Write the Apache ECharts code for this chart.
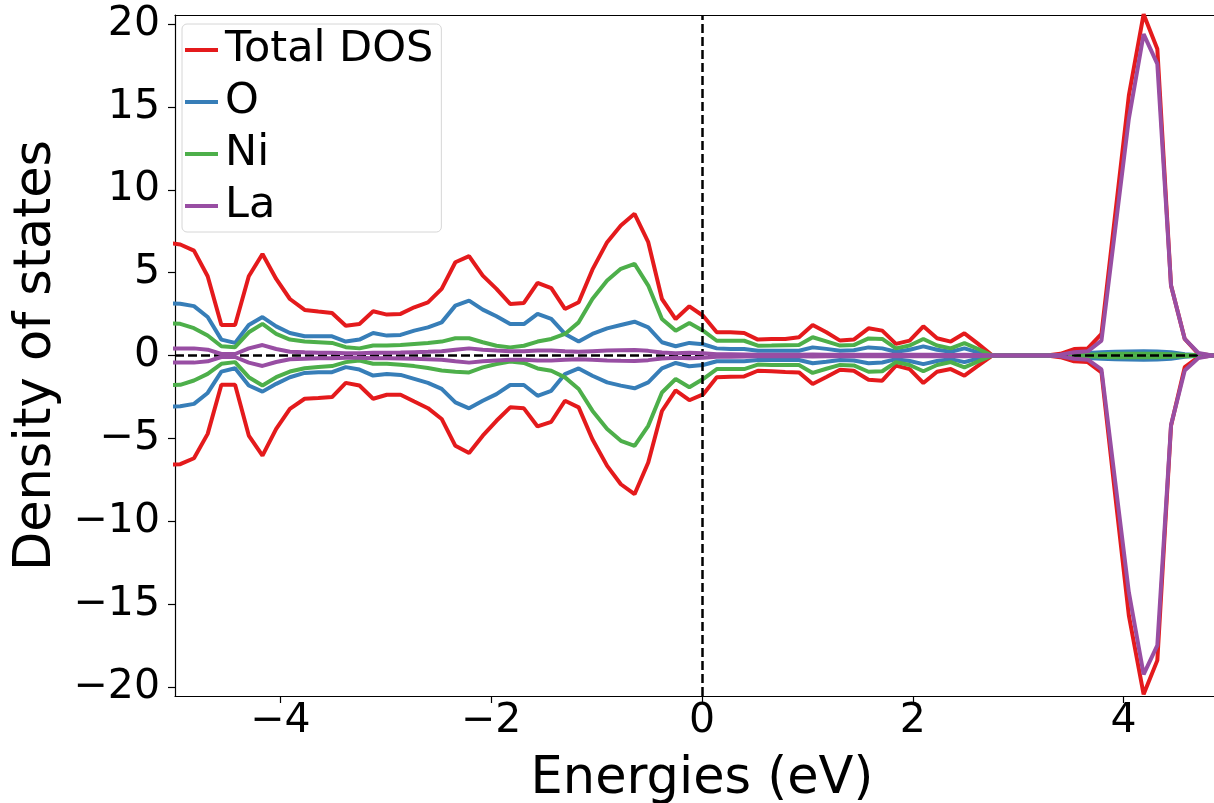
<!DOCTYPE html>
<html>
<head>
<meta charset="utf-8">
<script src="https://cdn.jsdelivr.net/npm/echarts@6/dist/echarts.min.js"></script>
<style>
  html, body { margin: 0; padding: 0; background: #fff; }
  #chart { width: 1214px; height: 803px; }
</style>
</head>
<body>
<div id="chart"></div>
<script>
const energies = [-5.08, -4.95, -4.82, -4.69, -4.56, -4.43, -4.30, -4.17, -4.04, -3.91,
    -3.77, -3.64, -3.51, -3.38, -3.25, -3.12, -2.99, -2.86, -2.73, -2.60,
    -2.47, -2.34, -2.21, -2.08, -1.95, -1.82, -1.69, -1.56, -1.43, -1.30,
    -1.17, -1.04, -0.90, -0.77, -0.64, -0.51, -0.38, -0.25, -0.12, 0.01,
    0.14, 0.27, 0.40, 0.53, 0.66, 0.79, 0.92, 1.05, 1.18, 1.31,
    1.44, 1.58, 1.71, 1.84, 1.97, 2.10, 2.23, 2.36, 2.49, 2.62,
    2.75, 2.88, 3.01, 3.14, 3.27, 3.40, 3.53, 3.66, 3.79, 3.92,
    4.05, 4.19, 4.32, 4.45, 4.58, 4.71, 4.84, 4.97];

const totalUp = [6.8, 6.7, 6.33, 4.78, 1.84, 1.84, 4.78, 6.13, 4.62, 3.41,
    2.75, 2.65, 2.57, 1.80, 1.90, 2.67, 2.47, 2.51, 2.91, 3.21,
    4.02, 5.63, 6.0, 4.82, 4.02, 3.11, 3.17, 4.38, 4.06, 2.81,
    3.21, 5.18, 6.84, 7.84, 8.55, 6.84, 3.41, 2.2, 2.97, 2.4,
    1.40, 1.40, 1.36, 0.96, 1.0, 1.0, 1.1, 1.84, 1.40, 0.90,
    0.96, 1.64, 1.50, 0.70, 0.90, 1.76, 1.04, 0.84, 1.34, 0.70,
    0.02, 0, 0, 0, 0, 0.1, 0.39, 0.43, 1.30, 8.5,
    15.7, 20.6, 18.5, 4.22, 1.0, 0.1, 0, 0];
const totalDown = [-6.6, -6.56, -6.2, -4.73, -1.77, -1.77, -4.83, -6.04, -4.43, -3.22,
    -2.61, -2.57, -2.51, -1.65, -1.81, -2.61, -2.37, -2.37, -2.78, -3.18,
    -3.83, -5.45, -5.89, -4.84, -3.94, -3.13, -3.19, -4.28, -4.0, -2.73,
    -3.13, -5.05, -6.66, -7.77, -8.37, -6.46, -3.35, -2.1, -2.7, -2.35,
    -1.32, -1.28, -1.26, -0.92, -0.95, -1.0, -1.02, -1.72, -1.3, -0.86,
    -0.92, -1.46, -1.52, -0.61, -0.82, -1.66, -0.98, -0.82, -1.22, -0.61,
    -0.02, 0, 0, 0, 0, -0.1, -0.35, -0.4, -1.02, -8.4,
    -15.7, -20.45, -18.4, -4.24, -0.7, -0.1, 0, 0];

const oUp = [3.15, 3.12, 2.98, 2.32, 0.96, 0.76, 1.84, 2.32, 1.76, 1.36,
    1.16, 1.16, 1.16, 0.84, 0.96, 1.36, 1.2, 1.24, 1.5, 1.7,
    2.0, 3.01, 3.31, 2.77, 2.37, 1.90, 1.90, 2.51, 2.21, 1.30,
    0.84, 1.30, 1.64, 1.84, 2.04, 1.70, 0.80, 0.56, 0.76, 0.68,
    0.43, 0.39, 0.39, 0.29, 0.29, 0.29, 0.29, 0.49, 0.40, 0.29,
    0.32, 0.49, 0.43, 0.23, 0.35, 0.55, 0.35, 0.23, 0.43, 0.19,
    0.01, 0, 0, 0, 0, 0.02, 0.08, 0.15, 0.2, 0.22,
    0.24, 0.25, 0.24, 0.2, 0.08, 0.02, 0, 0];
const oDown = [-3.08, -3.06, -2.92, -2.26, -0.97, -0.77, -1.81, -2.18, -1.71, -1.31,
    -1.05, -1.01, -1.01, -0.70, -0.85, -1.21, -1.11, -1.17, -1.41, -1.65,
    -2.01, -2.83, -3.19, -2.73, -2.33, -1.78, -1.78, -2.43, -2.13, -1.12,
    -0.78, -1.22, -1.62, -1.82, -1.98, -1.62, -0.78, -0.45, -0.65, -0.57,
    -0.35, -0.35, -0.35, -0.27, -0.27, -0.27, -0.27, -0.47, -0.38, -0.27,
    -0.3, -0.47, -0.42, -0.22, -0.33, -0.52, -0.33, -0.22, -0.4, -0.18,
    -0.01, 0, 0, 0, 0, -0.02, -0.08, -0.15, -0.2, -0.22,
    -0.24, -0.25, -0.24, -0.2, -0.08, -0.02, 0, 0];

const niUp = [1.95, 1.91, 1.65, 1.21, 0.56, 0.50, 1.40, 1.91, 1.31, 0.96,
    0.84, 0.80, 0.76, 0.50, 0.43, 0.60, 0.60, 0.64, 0.70, 0.76,
    0.84, 1.04, 1.04, 0.80, 0.59, 0.49, 0.59, 0.84, 1.0, 1.30,
    2.0, 3.41, 4.52, 5.23, 5.53, 4.22, 2.2, 1.5, 1.96, 1.5,
    0.89, 0.89, 0.89, 0.59, 0.60, 0.62, 0.63, 1.1, 0.85, 0.6,
    0.63, 1.03, 1.0, 0.43, 0.6, 1.0, 0.6, 0.43, 0.75, 0.39,
    0.01, 0, 0, 0, 0, 0, 0.02, 0.05, 0.08, 0.1,
    0.1, 0.1, 0.1, 0.08, 0.04, 0.01, 0, 0];
const niDown = [-1.8, -1.77, -1.51, -1.11, -0.5, -0.4, -1.31, -1.81, -1.31, -0.97,
    -0.77, -0.70, -0.64, -0.40, -0.30, -0.50, -0.50, -0.56, -0.64, -0.76,
    -0.9, -0.98, -1.02, -0.72, -0.51, -0.37, -0.45, -0.78, -0.92, -1.32,
    -2.02, -3.33, -4.44, -5.15, -5.45, -4.24, -2.23, -1.42, -1.92, -1.42,
    -0.82, -0.82, -0.82, -0.55, -0.57, -0.57, -0.57, -1.05, -0.8, -0.57,
    -0.6, -0.98, -0.95, -0.4, -0.57, -0.95, -0.57, -0.4, -0.72, -0.36,
    -0.01, 0, 0, 0, 0, 0, -0.02, -0.05, -0.08, -0.1,
    -0.1, -0.1, -0.1, -0.08, -0.04, -0.01, 0, 0];

const laUp = [0.43, 0.43, 0.43, 0.35, 0.09, 0.09, 0.43, 0.63, 0.39, 0.23,
    0.19, 0.17, 0.16, 0.13, 0.13, 0.16, 0.17, 0.18, 0.2, 0.22,
    0.25, 0.35, 0.43, 0.35, 0.3, 0.26, 0.26, 0.3, 0.3, 0.25,
    0.22, 0.26, 0.3, 0.32, 0.33, 0.28, 0.18, 0.14, 0.17, 0.14,
    0.08, 0.07, 0.06, 0.05, 0.05, 0.05, 0.05, 0.06, 0.05, 0.04,
    0.04, 0.05, 0.05, 0.04, 0.04, 0.05, 0.04, 0.03, 0.04, 0.03,
    0, 0, 0, 0, 0, 0.05, 0.2, 0.25, 0.9, 7.6,
    14.3, 19.4, 17.6, 4.22, 1.0, 0.15, 0, 0];
const laDown = [-0.43, -0.43, -0.43, -0.35, -0.09, -0.09, -0.43, -0.63, -0.39, -0.23,
    -0.19, -0.17, -0.16, -0.13, -0.13, -0.16, -0.17, -0.18, -0.2, -0.22,
    -0.25, -0.35, -0.43, -0.35, -0.3, -0.26, -0.26, -0.3, -0.3, -0.25,
    -0.22, -0.26, -0.3, -0.32, -0.33, -0.28, -0.18, -0.14, -0.17, -0.14,
    -0.08, -0.07, -0.06, -0.05, -0.05, -0.05, -0.05, -0.06, -0.05, -0.04,
    -0.04, -0.05, -0.05, -0.04, -0.04, -0.05, -0.04, -0.03, -0.04, -0.03,
    0, 0, 0, 0, 0, -0.05, -0.2, -0.25, -0.84, -7.6,
    -14.3, -19.25, -17.5, -4.2, -0.9, -0.15, 0, 0];

const xTicks = [-4, -2, 0, 2, 4];
const yTicks = [-20, -15, -10, -5, 0, 5, 10, 15, 20];

const names = ['Total DOS', 'O', 'Ni', 'La'];
const colors = ['#e41a1c', '#377eb8', '#4daf4a', '#984ea3'];
const upSets = [totalUp, oUp, niUp, laUp];
const downSets = [totalDown, oDown, niDown, laDown];

const font = 'DejaVu Sans';

function pairs(vals) {
    return energies.map((e, i) => [e, vals[i]]);
}

const series = [];
names.forEach((name, i) => {
    [upSets[i], downSets[i]].forEach(vals => {
        series.push({
            name: name,
            type: 'line',
            data: pairs(vals),
            showSymbol: false,
            symbol: 'none',
            color: colors[i],
            lineStyle: { color: colors[i], width: 4 },
            z: 2 + i,
            animation: false
        });
    });
});

// dashed reference lines at E = 0 and DOS = 0
series.push({
    type: 'line',
    data: [],
    z: 10,
    markLine: {
        silent: true,
        symbol: 'none',
        label: { show: false },
        animation: false,
        lineStyle: { color: '#000', type: [9, 4], width: 2.5 },
        data: [{ xAxis: 0 }, { yAxis: 0 }]
    }
});

const chart = echarts.init(document.getElementById('chart'));
chart.setOption({
    animation: false,
    backgroundColor: '#fff',
    // axes run to E = 5, a bit past the right edge of the picture
    grid: { left: 175, top: 15, width: 1054, height: 681, outerBoundsMode: 'none', containLabel: false },
    legend: {
        data: names.map(n => ({ name: n, icon: 'rect' })),
        orient: 'vertical',
        left: 182,
        top: 24,
        itemWidth: 33,
        itemHeight: 4,
        itemGap: 8,
        padding: [4, 8, 4, 3],
        backgroundColor: 'rgba(255,255,255,0.8)',
        borderColor: '#d6d6d6',
        borderWidth: 1,
        borderRadius: 5,
        textStyle: { fontFamily: font, fontSize: 43, color: '#000', lineHeight: 44, padding: [0, 0, 0, 2] }
    },
    xAxis: [{
        type: 'value',
        min: -5,
        max: 5,
        name: 'Energies (eV)',
        nameLocation: 'middle',
        nameGap: 58,
        nameTextStyle: { fontFamily: font, fontSize: 51, color: '#000' },
        splitLine: { show: false },
        axisLine: { onZero: false, lineStyle: { color: '#000', width: 1.2 } },
        axisTick: { length: 7, lineStyle: { color: '#000', width: 1.2 }, customValues: xTicks },
        axisLabel: {
            fontFamily: font, fontSize: 41, color: '#000', margin: 5,
            customValues: xTicks,
            formatter: v => (v < 0 ? '\u2212' + Math.abs(v) : String(v))
        }
    }, {
        type: 'value',
        position: 'top',
        min: -5,
        max: 5,
        splitLine: { show: false },
        axisLine: { onZero: false, lineStyle: { color: '#000', width: 1.2 } },
        axisTick: { show: false },
        axisLabel: { show: false }
    }],
    yAxis: {
        type: 'value',
        min: -20.55,
        max: 20.55,
        name: 'Density of states',
        nameLocation: 'middle',
        nameGap: 101,
        nameTextStyle: { fontFamily: font, fontSize: 51, color: '#000' },
        splitLine: { show: false },
        axisLine: { onZero: false, lineStyle: { color: '#000', width: 1.2 } },
        axisTick: { length: 7, lineStyle: { color: '#000', width: 1.2 }, customValues: yTicks },
        axisLabel: {
            fontFamily: font, fontSize: 41, color: '#000', margin: 15,
            customValues: yTicks,
            formatter: v => (v < 0 ? '\u2212' + Math.abs(v) : String(v))
        }
    },
    series: series
});
</script>
</body>
</html>
